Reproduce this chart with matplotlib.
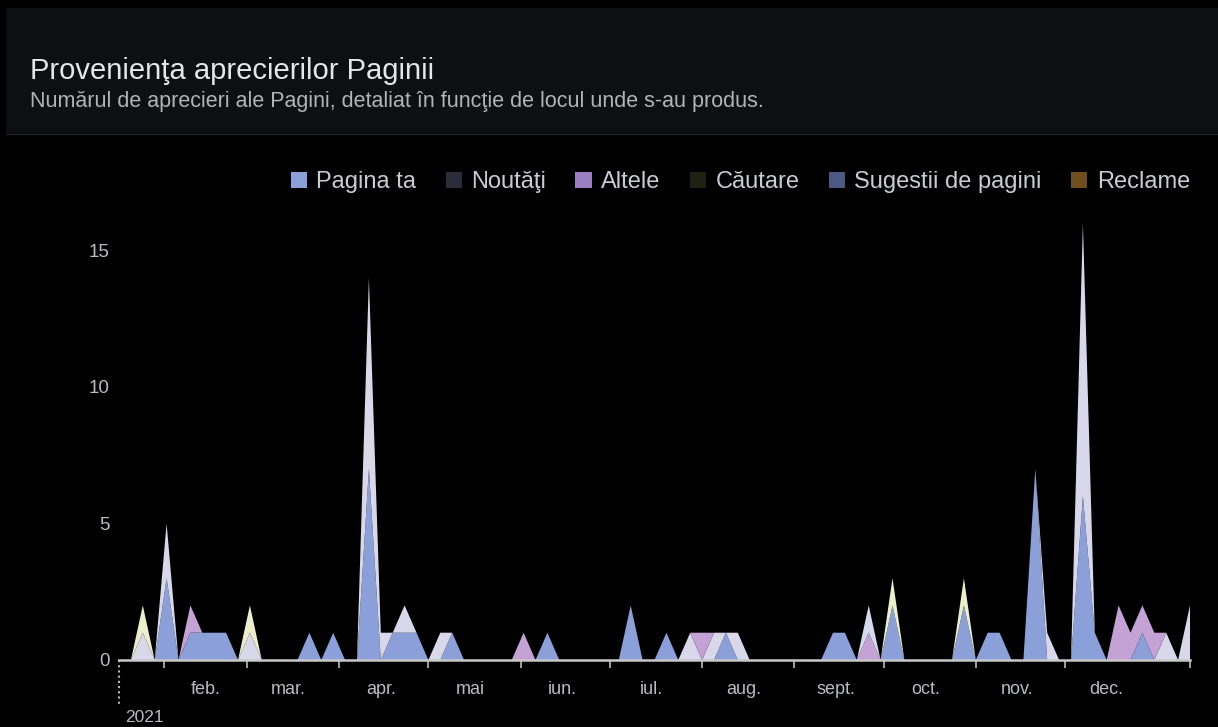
import numpy as np
import pandas as pd
import matplotlib
matplotlib.use("Agg")
import matplotlib.pyplot as plt
from matplotlib.patches import Patch, Rectangle

plt.rcParams['font.family'] = ['Liberation Sans', 'DejaVu Sans']

# page likes per 4-day bucket, starting 17 Jan 2021
dates = pd.date_range("2021-01-17", periods=91, freq="4D")

pagina_ta = [0, 0, 0, 0, 3, 0, 1, 1, 1, 1,
             0, 0, 0, 0, 0, 0, 1, 0, 1, 0,
             0, 7, 0, 1, 1, 1, 0, 0, 1, 0,
             0, 0, 0, 0, 0, 0, 1, 0, 0, 0,
             0, 0, 0, 2, 0, 0, 1, 0, 0, 0,
             0, 1, 0, 0, 0, 0, 0, 0, 0, 0,
             1, 1, 0, 0, 0, 2, 0, 0, 0, 0,
             0, 2, 0, 1, 1, 0, 0, 7, 0, 0,
             0, 6, 1, 0, 0, 0, 1, 0, 0, 0,
             0]
noutati = [0, 0, 1, 0, 2, 0, 0, 0, 0, 0,
           0, 1, 0, 0, 0, 0, 0, 0, 0, 0,
           0, 7, 1, 0, 1, 0, 0, 1, 0, 0,
           0, 0, 0, 0, 0, 0, 0, 0, 0, 0,
           0, 0, 0, 0, 0, 0, 0, 0, 1, 0,
           1, 0, 1, 0, 0, 0, 0, 0, 0, 0,
           0, 0, 0, 0, 0, 0, 0, 0, 0, 0,
           0, 0, 0, 0, 0, 0, 0, 0, 1, 0,
           0, 10, 0, 0, 0, 0, 0, 0, 1, 0,
           2]
altele = [0, 0, 0, 0, 0, 0, 1, 0, 0, 0,
          0, 0, 0, 0, 0, 0, 0, 0, 0, 0,
          0, 0, 0, 0, 0, 0, 0, 0, 0, 0,
          0, 0, 0, 0, 1, 0, 0, 0, 0, 0,
          0, 0, 0, 0, 0, 0, 0, 0, 0, 1,
          0, 0, 0, 0, 0, 0, 0, 0, 0, 0,
          0, 0, 0, 1, 0, 0, 0, 0, 0, 0,
          0, 0, 0, 0, 0, 0, 0, 0, 0, 0,
          0, 0, 0, 0, 2, 1, 1, 1, 0, 0,
          0]
cautare = [0, 0, 1, 0, 0, 0, 0, 0, 0, 0,
           0, 1, 0, 0, 0, 0, 0, 0, 0, 0,
           0, 0, 0, 0, 0, 0, 0, 0, 0, 0,
           0, 0, 0, 0, 0, 0, 0, 0, 0, 0,
           0, 0, 0, 0, 0, 0, 0, 0, 0, 0,
           0, 0, 0, 0, 0, 0, 0, 0, 0, 0,
           0, 0, 0, 0, 0, 1, 0, 0, 0, 0,
           0, 1, 0, 0, 0, 0, 0, 0, 0, 0,
           0, 0, 0, 0, 0, 0, 0, 0, 0, 0,
           0]
sugestii = [0] * 63 + [1] + [0] * 27
reclame = [0] * 91

labels = ["Pagina ta", "Noutăţi", "Altele", "Căutare", "Sugestii de pagini", "Reclame"]
fill_colors = ["#8b9fd9", "#d8d8ea", "#c4a2d6", "#eceecb", "#d6d9ee", "#e2c98f"]
swatch_colors = ["#8a9fd8", "#2c2b3a", "#9a7dbf", "#1f2112", "#4e5a86", "#6e5020"]

month_names = ["feb.", "mar.", "apr.", "mai", "iun.", "iul.", "aug.",
               "sept.", "oct.", "nov.", "dec."]

fig = plt.figure(figsize=(12.18, 7.27), dpi=100, facecolor="black")

# header panel
fig.patches.append(Rectangle((6 / 1218, 1 - 133 / 727), 1, 125 / 727,
                             transform=fig.transFigure, facecolor="#0e0f10",
                             edgecolor="none", zorder=0))
fig.lines.append(plt.Line2D([6 / 1218, 1], [1 - 134 / 727] * 2,
                            transform=fig.transFigure, color="#262729", lw=1))
fig.text(30 / 1218, 1 - 71 / 727, "Provenienţa aprecierilor Paginii",
         color="#e4e6eb", fontsize=21, va="center")
fig.text(30 / 1218, 1 - 102 / 727,
         "Numărul de aprecieri ale Pagini, detaliat în funcţie de locul unde s-au produs.",
         color="#b0b3b8", fontsize=15.5, va="center")

ax = fig.add_axes([119 / 1218, 1 - 660 / 727, 1071 / 1218, 445 / 727])
ax.set_facecolor("black")
ax.stackplot(dates, pagina_ta, noutati, altele, cautare, sugestii, reclame,
             colors=fill_colors, linewidth=0)

ax.set_xlim(dates[0], dates[-1])
ax.set_ylim(0, 16.3)
ax.set_yticks([0, 5, 10, 15])
ax.tick_params(axis="y", length=0, pad=7, labelcolor="#b8bbc0", labelsize=13.5)

month_starts = pd.date_range("2021-02-01", "2021-12-01", freq="MS")
ax.set_xticks(list(month_starts) + [dates[-1]])
ax.set_xticklabels([])
ax.set_xticks(month_starts + pd.Timedelta(days=14), minor=True)
ax.set_xticklabels(month_names, minor=True)
ax.tick_params(axis="x", which="major", length=6, width=1.2, color="#bdbdbd")
ax.tick_params(axis="x", which="minor", length=0, pad=15,
               labelcolor="#b8bbc0", labelsize=13)

for side in ["top", "right", "left"]:
    ax.spines[side].set_visible(False)
ax.spines["bottom"].set_color("#c8c8c8")
ax.spines["bottom"].set_linewidth(1.8)

# year marker
ax.plot([0, 0], [0, -0.1], transform=ax.transAxes, color="#bdbdbd",
        lw=1.5, ls=(0, (1, 1.5)), clip_on=False)
ax.text(0.006, -0.13, "2021", transform=ax.transAxes, color="#b8bbc0",
        fontsize=12.5, va="center", ha="left")

handles = [Patch(facecolor=c, edgecolor="none") for c in swatch_colors]
fig.legend(handles, labels, loc="center right", ncol=6,
           bbox_to_anchor=(1190 / 1218, 1 - 182 / 727), frameon=False,
           handlelength=0.68, handleheight=0.68, handletextpad=0.4,
           columnspacing=1.25, fontsize=17, labelcolor="#c9ccd1",
           borderpad=0, borderaxespad=0)

fig.savefig("out.png", dpi=100, facecolor="black")
